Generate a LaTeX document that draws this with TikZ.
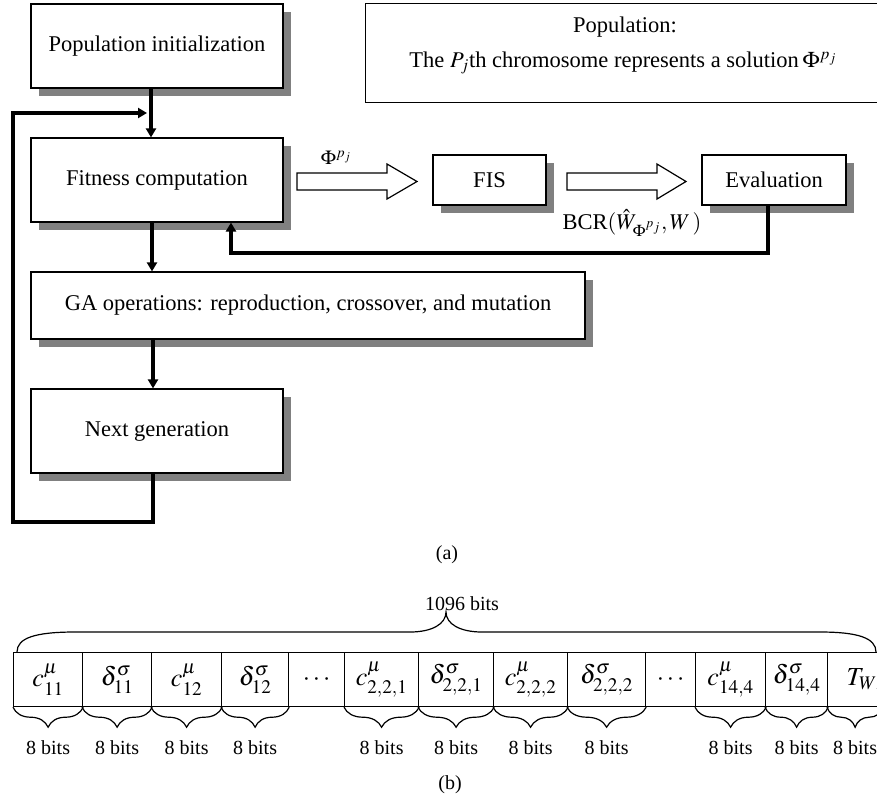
\documentclass[tikz,border=0pt]{standalone}
\usepackage{mathptmx}
\usepackage{fontspec}
\setmainfont{Liberation Serif}
\usetikzlibrary{arrows.meta,shadows,decorations.pathreplacing}
\begin{document}
\begin{tikzpicture}[x=1pt,y=-1pt,
  every node/.style={font=\fontsize{22.5}{27}\selectfont},
  sbox/.style={draw, line width=1.2pt, fill=white, minimum width=252pt, minimum height=84pt, inner sep=0pt,
    general shadow={fill=black!50, shadow xshift=8pt, shadow yshift=-8pt}},
  conn/.style={line width=3.2pt, -{Triangle[length=9pt,width=10pt]}},
  cell/.style={draw, line width=1.2pt, minimum height=54pt, inner sep=0pt, anchor=north west, font=\fontsize{26}{30}\selectfont},
  bits/.style={font=\fontsize{20}{24}\selectfont},
  ubrace/.style={decorate, decoration={brace, mirror, amplitude=20pt}, line width=1.2pt},
  blockarrow/.style={draw, line width=1.2pt, fill=white}
]
\useasboundingbox (0,0) rectangle (877,804);

% ---- part (a) ----
\node[sbox] (init) at (157,46) {Population initialization};
\node[sbox] (fit) at (157,180) {Fitness computation};
\node[sbox, minimum width=554pt, minimum height=67pt] (ga) at (308,305.5) {GA operations: reproduction, crossover, and mutation};
\node[sbox] (next) at (157,431) {Next generation};
\node[sbox, minimum width=113pt, minimum height=50pt] (fis) at (489.5,180) {FIS};
\node[sbox, minimum width=144pt, minimum height=50pt] (eval) at (774,180) {Evaluation};

\node[draw, line width=1.2pt, minimum width=525pt, minimum height=99pt, inner sep=0pt, anchor=north west] (pop) at (365,3) {};
\node (poptitle) at (625,27) {Population:};
\node (popline) at (623,63) {The $P_j$th chromosome represents a solution\,$\Phi^{p_j}$};

% connectors
\draw[conn] ([xshift=-6pt]init.south) -- ([xshift=-6pt]fit.north);
\draw[conn] ([xshift=-5pt]fit.south) -- ([xshift=-5pt]fit.south |- ga.north);
\draw[conn] ([xshift=-4pt]next.north |- ga.south) -- ([xshift=-4pt]next.north);

\coordinate (lb) at (153,522);
\coordinate (lt) at (13,113);
\coordinate (join) at (147,113);
\draw[conn] (lb |- next.south) -- (lb) -| (lt) -- (join);

\coordinate (fb) at (768,253);
\coordinate (fb2) at (231,253);
\draw[conn] (fb |- eval.south) -- (fb) -- (fb2) -- (fb2 |- fit.south);

% block arrows
\draw[blockarrow] (297,173) -- (387,173) -- (387,164) -- (417,181.5) -- (387,199) -- (387,190) -- (297,190) -- cycle;
\draw[blockarrow] (567,173) -- (657,173) -- (657,164) -- (686,181.5) -- (657,199) -- (657,190) -- (567,190) -- cycle;

\node[font=\fontsize{20}{24}\selectfont] (philab) at (336,158) {$\Phi^{p_j}$};
\node[inner sep=1pt] (bcr) at (632,223) {BCR$(\hat{W}_{\Phi^{p_j}},W\,)$};

\node[bits] (alab) at (447,555) {(a)};

% ---- part (b) ----
\node[bits] (total) at (462,604) {1096 bits};
\coordinate (bl) at (17,652);
\coordinate (br) at (876,652);
\coordinate (tip) at (446,612);
\draw[line width=1.2pt] (bl) .. controls (17,638) and (35,632) .. (75,632) -- (410,632)
  .. controls (432,632) and (446,624) .. (tip)
  .. controls (446,624) and (460,632) .. (482,632) -- (820,632)
  .. controls (858,632) and (876,638) .. (br);

\node[cell, minimum width=69pt] (c1) at (13,652) {$c^{\mu}_{11}$};
\node[cell, minimum width=69pt] (c2) at (82,652) {$\delta^{\sigma}_{11}$};
\node[cell, minimum width=70pt] (c3) at (151,652) {$c^{\mu}_{12}$};
\node[cell, minimum width=67pt] (c4) at (221,652) {$\delta^{\sigma}_{12}$};
\node[cell, minimum width=56pt] (c5) at (288,652) {$\cdots$};
\node[cell, minimum width=74pt] (c6) at (344,652) {$c^{\mu}_{2,2,1}$};
\node[cell, minimum width=75pt] (c7) at (418,652) {$\delta^{\sigma}_{2,2,1}$};
\node[cell, minimum width=74pt] (c8) at (493,652) {$c^{\mu}_{2,2,2}$};
\node[cell, minimum width=78pt] (c9) at (567,652) {$\delta^{\sigma}_{2,2,2}$};
\node[cell, minimum width=50pt] (c10) at (645,652) {$\cdots$};
\node[cell, minimum width=70pt] (c11) at (695,652) {$c^{\mu}_{14,4}$};
\node[cell, minimum width=62pt] (c12) at (765,652) {$\delta^{\sigma}_{14,4}$};
\node[cell, minimum width=55pt] (c13) at (827,652) {\makebox[55pt][l]{\hspace*{19pt}$T_{WE}$}};

\foreach \c in {c1,c2,c3,c4,c6,c7,c8,c9,c11,c12,c13}{
  \draw[ubrace] (\c.south west) -- (\c.south east);
  \node[bits] at ([yshift=-40pt]\c.south) {8 bits};
}

\node[bits] (blab) at (450,785) {(b)};
\end{tikzpicture}
\end{document}
